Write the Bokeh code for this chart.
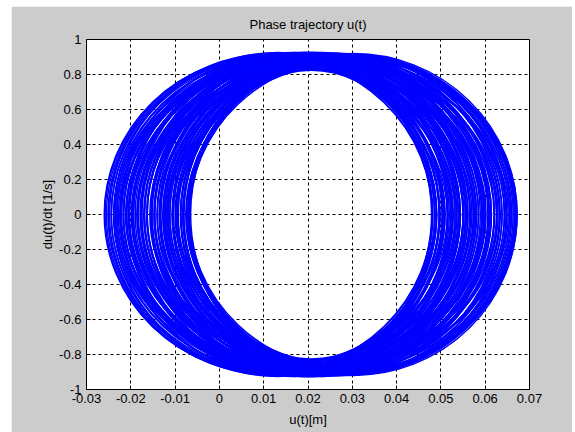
from bokeh.plotting import figure
from bokeh.layouts import column, row
from bokeh.models import Range1d, FixedTicker, ColumnDataSource, Spacer
from bokeh.embed import file_html
from bokeh.resources import INLINE

# ---- data: one entry per loop of the trajectory ----
# centre of each loop on the u axis [m]
LOOP_CENTER_U = [
    0.0110, 0.0113, 0.0114, 0.0118, 0.0120, 0.0123, 0.0125, 0.0126, 0.0130, 0.0132,
    0.0134, 0.0137, 0.0139, 0.0142, 0.0143, 0.0147, 0.0149, 0.0151, 0.0154, 0.0155,
    0.0158, 0.0161, 0.0163, 0.0165, 0.0168, 0.0171, 0.0172, 0.0175, 0.0178, 0.0180,
    0.0182, 0.0185, 0.0188, 0.0189, 0.0192, 0.0195, 0.0197, 0.0199, 0.0202, 0.0205,
    0.0206, 0.0209, 0.0212, 0.0214, 0.0216, 0.0219, 0.0221, 0.0224, 0.0226, 0.0228,
    0.0231, 0.0233, 0.0236, 0.0238, 0.0241, 0.0243, 0.0245, 0.0248, 0.0250, 0.0253,
    0.0255, 0.0257, 0.0260, 0.0262, 0.0264, 0.0267, 0.0270, 0.0272, 0.0274, 0.0277,
    0.0279, 0.0281, 0.0284, 0.0286, 0.0288, 0.0291, 0.0293, 0.0295, 0.0297, 0.0299,
    0.0300, 0.0301, 0.0302, 0.0302,
    # loops around the middle of the orbit
    0.0207, 0.0206, 0.0208, 0.0205, 0.0207, 0.0209, 0.0204, 0.0206, 0.0208, 0.0205,
    0.0207, 0.0206, 0.0208, 0.0205, 0.0207, 0.0206, 0.0204, 0.0208, 0.0206, 0.0207,
    0.0205, 0.0207, 0.0206, 0.0208,
]
# amplitude of u in each loop [m]
LOOP_AMP_U = [
    0.0370, 0.0368, 0.0372, 0.0369, 0.0371, 0.0367, 0.0373, 0.0370, 0.0368, 0.0371,
    0.0369, 0.0372, 0.0370, 0.0367, 0.0371, 0.0369, 0.0373, 0.0368, 0.0370, 0.0372,
    0.0367, 0.0371, 0.0369, 0.0370, 0.0372, 0.0368, 0.0371, 0.0369, 0.0373, 0.0370,
    0.0368, 0.0371, 0.0367, 0.0372, 0.0369, 0.0370, 0.0373, 0.0368, 0.0371, 0.0369,
    0.0370, 0.0372, 0.0367, 0.0371, 0.0369, 0.0373, 0.0368, 0.0370, 0.0372, 0.0369,
    0.0371, 0.0367, 0.0370, 0.0372, 0.0368, 0.0371, 0.0369, 0.0373, 0.0370, 0.0368,
    0.0371, 0.0369, 0.0372, 0.0367, 0.0370, 0.0371, 0.0368, 0.0372, 0.0369, 0.0370,
    0.0373, 0.0368, 0.0371, 0.0369, 0.0370, 0.0372, 0.0367, 0.0371, 0.0369, 0.0370,
    0.0368, 0.0371, 0.0370, 0.0369,
    0.0272, 0.0276, 0.0278, 0.0285, 0.0289, 0.0297, 0.0301, 0.0310, 0.0315, 0.0323,
    0.0329, 0.0338, 0.0344, 0.0353, 0.0359, 0.0369, 0.0375, 0.0385, 0.0391, 0.0401,
    0.0408, 0.0419, 0.0427, 0.0440,
]
# amplitude of du/dt in each loop [1/s]
LOOP_AMP_DU = [
    0.905, 0.905, 0.912, 0.918, 0.898, 0.895, 0.915, 0.910, 0.893, 0.925,
    0.866, 0.900, 0.889, 0.915, 0.858, 0.922, 0.876, 0.905, 0.893, 0.868,
    0.920, 0.884, 0.912, 0.862, 0.926, 0.898, 0.874, 0.917, 0.888, 0.905,
    0.869, 0.921, 0.896, 0.880, 0.927, 0.902, 0.873, 0.915, 0.890, 0.924,
    0.865, 0.908, 0.928, 0.885, 0.912, 0.870, 0.922, 0.899, 0.880, 0.917,
    0.862, 0.925, 0.893, 0.906, 0.871, 0.919, 0.887, 0.910, 0.866, 0.921,
    0.895, 0.878, 0.916, 0.860, 0.905, 0.889, 0.922, 0.868, 0.900, 0.913,
    0.856, 0.918, 0.884, 0.902, 0.905, 0.915, 0.910, 0.892, 0.918, 0.908,
    0.902, 0.900, 0.920, 0.890,
    0.825, 0.830, 0.833, 0.839, 0.842, 0.848, 0.851, 0.857, 0.860, 0.867,
    0.869, 0.875, 0.878, 0.884, 0.886, 0.892, 0.894, 0.900, 0.902, 0.907,
    0.909, 0.914, 0.915, 0.921,
]

X_TICKS = [-0.03, -0.02, -0.01, 0.0, 0.01, 0.02, 0.03, 0.04, 0.05, 0.06, 0.07]
X_TICK_LABELS = ["-0.03", "-0.02", "-0.01", "0", "0.01", "0.02", "0.03", "0.04", "0.05", "0.06", "0.07"]
Y_TICKS = [-1.0, -0.8, -0.6, -0.4, -0.2, 0.0, 0.2, 0.4, 0.6, 0.8, 1.0]
Y_TICK_LABELS = ["-1", "-0.8", "-0.6", "-0.4", "-0.2", "0", "0.2", "0.4", "0.6", "0.8", "1"]

TITLE = "Phase trajectory u(t)"
X_LABEL = "u(t)[m]"
Y_LABEL = "du(t)/dt [1/s]"

FONT = "Liberation Sans"

src = ColumnDataSource(dict(
    u=LOOP_CENTER_U,
    du=[0.0] * len(LOOP_CENTER_U),
    w=[2 * a for a in LOOP_AMP_U],
    h=[2 * b for b in LOOP_AMP_DU],
))

p = figure(width=561, height=426,
           x_range=Range1d(-0.03, 0.07), y_range=Range1d(-1, 1),
           output_backend="svg", toolbar_location=None,
           min_border_left=75, min_border_right=43,
           min_border_top=32, min_border_bottom=43,
           title=TITLE)

p.border_fill_color = "#cccccc"
p.background_fill_color = "white"
p.outline_line_color = "black"
p.outline_line_width = 1

p.title.align = "center"
p.title.text_font = FONT
p.title.text_font_size = "13px"
p.title.text_font_style = "normal"
p.title.text_color = "black"
p.title.standoff = 16

p.ellipse(x="u", y="du", width="w", height="h", source=src,
          fill_color=None, line_color="#0000ff", line_width=1.5)

xt = FixedTicker(ticks=X_TICKS)
yt = FixedTicker(ticks=Y_TICKS)

for ax in p.xaxis:
    ax.ticker = xt
    ax.major_label_overrides = dict(zip(X_TICKS, X_TICK_LABELS))
    ax.axis_label = X_LABEL
for ax in p.yaxis:
    ax.ticker = yt
    ax.major_label_overrides = dict(zip(Y_TICKS, Y_TICK_LABELS))
    ax.axis_label = Y_LABEL

for ax in list(p.xaxis) + list(p.yaxis):
    ax.axis_line_color = "black"
    ax.major_tick_line_color = "black"
    ax.major_tick_in = 4
    ax.major_tick_out = 0
    ax.minor_tick_line_color = None
    ax.major_label_text_font = FONT
    ax.major_label_text_font_size = "13px"
    ax.major_label_text_color = "black"
    ax.major_label_standoff = 4
    ax.axis_label_text_font = FONT
    ax.axis_label_text_font_size = "13px"
    ax.axis_label_text_font_style = "normal"
    ax.axis_label_text_color = "black"

p.xaxis.axis_label_standoff = 6
p.yaxis.major_label_standoff = 5
p.yaxis.axis_label_standoff = 1

p.grid.grid_line_color = "black"
p.grid.grid_line_dash = "3 3"
p.grid.grid_line_width = 1
p.xgrid.ticker = xt
p.ygrid.ticker = yt

page = column(Spacer(width=572, height=6),
              row(Spacer(width=11, height=426), p, spacing=0),
              spacing=0)

open("out.html", "w").write(file_html(page, INLINE))
